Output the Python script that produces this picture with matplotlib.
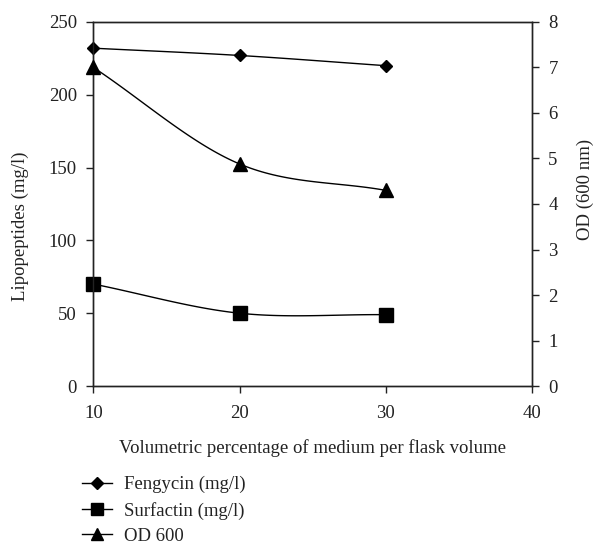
import matplotlib

matplotlib.use("Agg")

import matplotlib.pyplot as plt
import numpy as np
from matplotlib.lines import Line2D

plt.rcParams["font.family"] = ["Liberation Serif", "DejaVu Serif"]

volume_pct = [10, 20, 30]
fengycin = [232, 227, 220]
surfactin = [70, 50, 49]
od600 = [7.0, 4.88, 4.3]

FS = 13.5
INK = "#222222"


def smooth(x, y, n=40):
    # Catmull-Rom style smoothing, similar to spreadsheet "smoothed line"
    x = np.asarray(x, float)
    y = np.asarray(y, float)
    px = np.concatenate([[2 * x[0] - x[1]], x, [2 * x[-1] - x[-2]]])
    py = np.concatenate([[2 * y[0] - y[1]], y, [2 * y[-1] - y[-2]]])
    xs, ys = [], []
    t = np.linspace(0, 1, n)
    for i in range(1, len(px) - 2):
        for p, out in ((px, xs), (py, ys)):
            p0, p1, p2, p3 = p[i - 1], p[i], p[i + 1], p[i + 2]
            out.extend(0.5 * ((2 * p1) + (-p0 + p2) * t
                              + (2 * p0 - 5 * p1 + 4 * p2 - p3) * t ** 2
                              + (-p0 + 3 * p1 - 3 * p2 + p3) * t ** 3))
    return np.array(xs), np.array(ys)


fig = plt.figure(figsize=(5.97, 5.44), dpi=100)
ax = fig.add_axes([0.1566, 0.2904, 0.734, 0.6692])
ax2 = ax.twinx()

sx, sy = smooth(volume_pct, fengycin)
ax.plot(sx, sy, color="black", lw=1)
ax.plot(volume_pct, fengycin, ls="none", marker="D", ms=6, color="black", clip_on=False, zorder=5)
sx, sy = smooth(volume_pct, surfactin)
ax.plot(sx, sy, color="black", lw=1)
ax.plot(volume_pct, surfactin, ls="none", marker="s", ms=9.5, color="black", clip_on=False, zorder=5)
sx, sy = smooth(volume_pct, od600)
ax2.plot(sx, sy, color="black", lw=1)
ax2.plot(volume_pct, od600, ls="none", marker="^", ms=10, color="black", clip_on=False, zorder=5)

ax.set_xlim(10, 40)
ax.set_ylim(0, 250)
ax2.set_ylim(0, 8)
ax.set_xticks([10, 20, 30, 40])
ax.set_yticks(range(0, 251, 50))
ax2.set_yticks(range(0, 9))

for a in (ax, ax2):
    a.tick_params(direction="out", length=5, width=1, labelsize=FS, colors=INK, pad=7)
    for s in a.spines.values():
        s.set_linewidth(1)
        s.set_color(INK)
ax.tick_params(axis="x", pad=9)

ax.set_xlabel("Volumetric percentage of medium per flask volume", fontsize=FS, color=INK)
ax.xaxis.set_label_coords(0.5, -0.146)
ax.set_ylabel("Lipopeptides (mg/l)", fontsize=FS, color=INK)
ax.yaxis.set_label_coords(-0.147, 0.44)
ax2.set_ylabel("OD (600 nm)", fontsize=FS, color=INK)
ax2.yaxis.set_label_coords(1.102, 0.54)

handles = [
    Line2D([], [], color="black", lw=1, marker="D", ms=6),
    Line2D([], [], color="black", lw=1, marker="s", ms=8),
    Line2D([], [], color="black", lw=1, marker="^", ms=9),
]
leg = fig.legend(handles, ["Fengycin (mg/l)", "Surfactin (mg/l)", "OD 600"],
                 loc="upper left", bbox_to_anchor=(0.137, 0.125), frameon=False,
                 fontsize=FS, handlelength=1.6, handletextpad=0.64,
                 labelspacing=0.44, borderaxespad=0, borderpad=0)
for t in leg.get_texts():
    t.set_color(INK)

fig.savefig("out.png", dpi=100)
